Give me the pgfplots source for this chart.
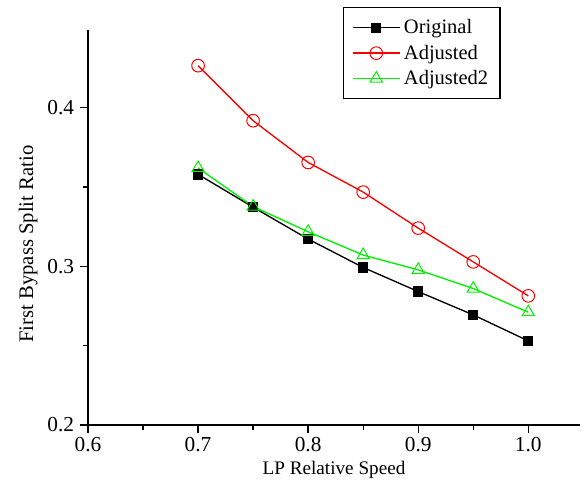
\documentclass[border=0pt]{standalone}
\usepackage{fontspec}
\setmainfont{Liberation Serif}
\usepackage{pgfplots}
\pgfplotsset{compat=1.18}
\definecolor{myred}{RGB}{255,0,0}
\definecolor{mygreen}{RGB}{0,240,0}

\begin{document}
\begin{tikzpicture}
\begin{axis}[
  scale only axis,
  width=295.2pt,height=237pt,
  xmin=0.6,xmax=1.047,
  ymin=0.2,ymax=0.449,
  axis x line*=bottom,
  axis y line*=left,
  axis line style={-,line width=0.8pt},
  xtick={0.6,0.7,0.8,0.9,1.0},
  minor xtick={0.65,0.75,0.85,0.95,1.05},
  ytick={0.2,0.3,0.4},
  minor ytick={0.25,0.35},
  /pgf/number format/assume math mode=true,
  xticklabel={\pgfmathprintnumber[fixed,fixed zerofill,precision=1]{\tick}},
  yticklabel={\pgfmathprintnumber[fixed,fixed zerofill,precision=1]{\tick}},
  tick align=outside,
  major tick length=4.8pt,
  minor tick length=3pt,
  every tick/.style={black,line width=0.8pt},
  tick label style={font=\fontsize{12.8}{14}\selectfont},
  xticklabel style={yshift=1pt},
  label style={font=\fontsize{11.5}{13}\selectfont},
  xlabel={LP Relative Speed},
  ylabel={First Bypass Split Ratio},
  xlabel style={yshift=1pt},
  ylabel style={font=\fontsize{12.4}{14}\selectfont,yshift=-1pt,xshift=-10pt},
  clip=false,
  legend style={at={(0.518,1.058)},anchor=north west,draw=black,line width=0.8pt,
    font=\fontsize{12.3}{14}\selectfont,row sep=1.2pt,inner xsep=5pt,inner ysep=5pt},
  legend cell align=left,
  legend image code/.code={
    \draw[#1,mark=none] (0cm,0cm) -- (1.0cm,0cm);
    \path[#1,line width=0.6pt] plot coordinates {(0.5cm,0cm)};
  },
]
\addplot[black,line width=0.8pt,mark=square*,mark size=2.7pt] coordinates {
  (0.70,0.358) (0.75,0.3373) (0.80,0.3172) (0.85,0.2993) (0.90,0.2841) (0.95,0.2694) (1.00,0.2530)
};
\addlegendentry{Original}
\addplot[myred,line width=0.8pt,mark=o,mark size=3.8pt,mark options={fill=white,line width=0.6pt}] coordinates {
  (0.70,0.4265) (0.75,0.3918) (0.80,0.3655) (0.85,0.3468) (0.90,0.3241) (0.95,0.3028) (1.00,0.2814)
};
\addlegendentry{Adjusted}
\addplot[mygreen,line width=0.8pt,mark=triangle,mark size=4.2pt,mark options={fill=white,line width=0.6pt}] coordinates {
  (0.70,0.362) (0.75,0.3377) (0.80,0.3218) (0.85,0.3071) (0.90,0.2978) (0.95,0.286) (1.00,0.2711)
};
\addlegendentry{Adjusted2}
\path (rel axis cs:-0.1789,-0.1595) rectangle (rel axis cs:1.0142,1.0759);
\end{axis}
\end{tikzpicture}
\end{document}
